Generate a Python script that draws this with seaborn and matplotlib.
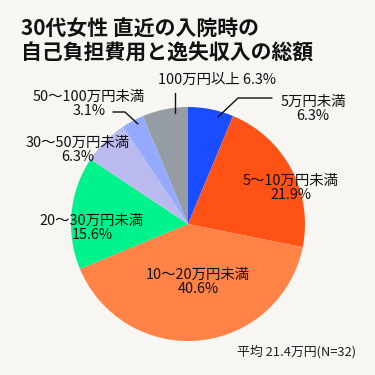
import matplotlib
matplotlib.use("Agg")
import matplotlib.pyplot as plt
import seaborn as sns

categories = ["5万円未満", "5〜10万円未満", "10〜20万円未満", "20〜30万円未満",
              "30〜50万円未満", "50〜100万円未満", "100万円以上"]
shares = [6.3, 21.9, 40.6, 15.6, 6.3, 3.1, 6.3]
colors = ["#1a4dff", "#ff5214", "#ff8247", "#00f28c", "#babaf0", "#94aaff", "#969ca3"]
title = "30代女性 直近の入院時の\n自己負担費用と逸失収入の総額"
note = "平均 21.4万円(N=32)"

sns.set_theme(style="white")
plt.rcParams['font.family'] = ['Noto Sans CJK JP', 'DejaVu Sans']
BG = "#f7f6f3"

W = 375
fig = plt.figure(figsize=(3.75, 3.75), dpi=100, facecolor=BG)
cx, cy, R = 188, 224, 117
ax = fig.add_axes([(cx - R) / W, (W - cy - R) / W, 2 * R / W, 2 * R / W])
ax.set_facecolor(BG)
ax.pie(shares, colors=colors, startangle=90, counterclock=False, radius=1,
       wedgeprops=dict(linewidth=0))
ax.set_xlim(-1, 1)
ax.set_ylim(-1, 1)
ax.set_aspect("equal")
ax.axis("off")

def P(px, py):
    return ((px - cx) / R, (cy - py) / R)

fs = 10.4
lab_pos = [(313, 109), (291, 188), (198, 282), (92, 228), (78, 150), (89, 104)]
for i, (px, py) in enumerate(lab_pos):
    x, y = P(px, py)
    ax.text(x, y, f"{categories[i]}\n{shares[i]}%", ha="center", va="center",
            fontsize=fs, linespacing=1.05, color="#111111", clip_on=False)
x, y = P(217, 80)
ax.text(x, y, f"{categories[6]} {shares[6]}%", ha="center", va="center",
        fontsize=fs, color="#111111", clip_on=False)

def line(pts):
    xs, ys = zip(*[P(a, b) for a, b in pts])
    ax.plot(xs, ys, color="#111111", lw=1.0, clip_on=False)

line([(175, 93), (175, 113)])
line([(218, 117), (238, 98), (272, 98)])
line([(113, 112), (125, 112), (138, 124)])

fig.text(21 / W, 1 - 18 / W, title, ha="left", va="top", fontsize=15,
         fontweight="bold", linespacing=1.2, color="#111111")
fig.text(356 / W, 1 - 352 / W, note, ha="right", va="center", fontsize=9.3,
         color="#222222")

fig.savefig("out.png", dpi=100, facecolor=BG)
